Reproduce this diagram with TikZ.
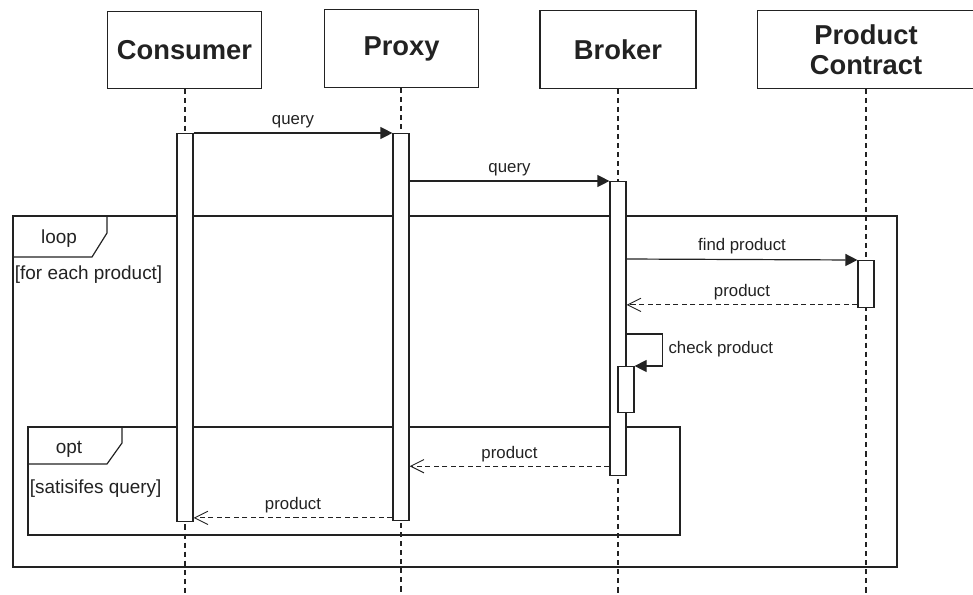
\documentclass[tikz,border=0pt]{standalone}
\usepackage{fontspec}
\setmainfont{Liberation Sans}
\usetikzlibrary{arrows.meta,calc}
\definecolor{ink}{HTML}{222222}
\begin{document}
\begin{tikzpicture}[x=0.75pt,y=-0.75pt,
  line width=0.9pt, color=ink,
  party/.style={draw, rectangle, inner sep=0pt, align=center,
    font=\bfseries\fontsize{20.5}{22.5}\selectfont},
  lifeline/.style={line width=0.8pt, dash pattern=on 3.8pt off 3pt},
  bar/.style={draw, fill=white, rectangle, inner sep=0pt, minimum width=12pt},
  label/.style={font=\fontsize{12.6}{14}\selectfont, inner sep=1pt},
  framelabel/.style={font=\fontsize{14.2}{16}\selectfont, inner sep=1pt},
  call/.style={-{Triangle[length=9pt,width=9pt]}},
  reply/.style={dash pattern=on 3.8pt off 2.6pt,
    -{Straight Barb[length=10pt,width=10pt,line width=0.7pt]}},
  frame/.style={draw, line width=0.9pt}]
\useasboundingbox (0,0) rectangle (973,594);

% participants
\node[party, minimum width=116pt, minimum height=58pt] (consumer) at (184.5,50) {Consumer};
\node[party, minimum width=116pt, minimum height=58pt] (proxy) at (401.5,48.5) {Proxy};
\node[party, minimum width=117pt, minimum height=58pt] (broker) at (618,49.5) {Broker};
\node[party, minimum width=163pt, minimum height=58pt] (contract) at (866,49.5) {Product\\Contract};

% lifelines
\coordinate (cEnd) at (185,594);
\coordinate (pEnd) at (401,594);
\coordinate (bEnd) at (618,594);
\coordinate (kEnd) at (866,594);
\draw[lifeline] (consumer.south -| cEnd) -- (cEnd);
\draw[lifeline] (proxy.south -| pEnd) -- (pEnd);
\draw[lifeline] (broker.south -| bEnd) -- (bEnd);
\draw[lifeline] (contract.south -| kEnd) -- (kEnd);

% combined fragments
\draw[frame] (13,216) rectangle (897,567);
\draw[frame] (107,216) -- (107,233) -- (92,257) -- (13,257);
\node[framelabel] (loopname) at (59,239) {loop};
\node[framelabel, anchor=west] (loopguard) at (13,275) {[for each product]};

\draw[frame] (28,427) rectangle (680,535);
\draw[frame] (122,427) -- (122,443) -- (107,464) -- (28,464);
\node[framelabel] (optname) at (69,449) {opt};
\node[framelabel, anchor=west] (optguard) at (28,489) {[satisifes query]};

% activation bars
\node[bar, minimum height=291pt, anchor=north] (cbar) at (185,133) {};
\node[bar, minimum height=290pt, anchor=north] (pbar) at (401,133) {};
\node[bar, minimum height=220.5pt, anchor=north] (bbar) at (618,181) {};
\node[bar, minimum height=35pt, anchor=north] (kbar) at (866,260) {};
\node[bar, minimum height=34.5pt, anchor=north] (sbar) at (626,366) {};

% messages
\draw[call] (cbar.north east) -- (pbar.north west)
  node[label, midway, above=2pt] (m1) {query};
\draw[call] (pbar.east |- bbar.north) -- (bbar.north west)
  node[label, midway, above=2pt] (m2) {query};
\coordinate (fpStart) at ($(bbar.north east)+(0,78)$);
\draw[call] (fpStart) -- (kbar.north west)
  node[label, midway, above=3pt] (m3) {find product};
\coordinate (rpStart) at ($(kbar.south west)+(0,-3)$);
\draw[reply] (rpStart) -- (rpStart -| bbar.east)
  node[label, midway, above=2pt] (m4) {product};

% self call
\coordinate (selfStart) at ($(bbar.north east)+(0,153)$);
\coordinate (selfTurn) at ($(selfStart)+(36,0)$);
\draw[call] (selfStart) -- (selfTurn) -- (selfTurn |- sbar.north east) -- (sbar.north east);
\node[label, anchor=west] (m5) at ($(selfTurn)+(4,15)$) {check product};

% replies
\coordinate (r1Start) at ($(bbar.south west)+(0,-10)$);
\draw[reply] (r1Start) -- (r1Start -| pbar.east)
  node[label, midway, above=2pt] (m6) {product};
\coordinate (r2Start) at ($(pbar.south west)+(0,-3)$);
\draw[reply] (r2Start) -- (r2Start -| cbar.east)
  node[label, midway, above=2pt] (m7) {product};
\end{tikzpicture}
\end{document}
